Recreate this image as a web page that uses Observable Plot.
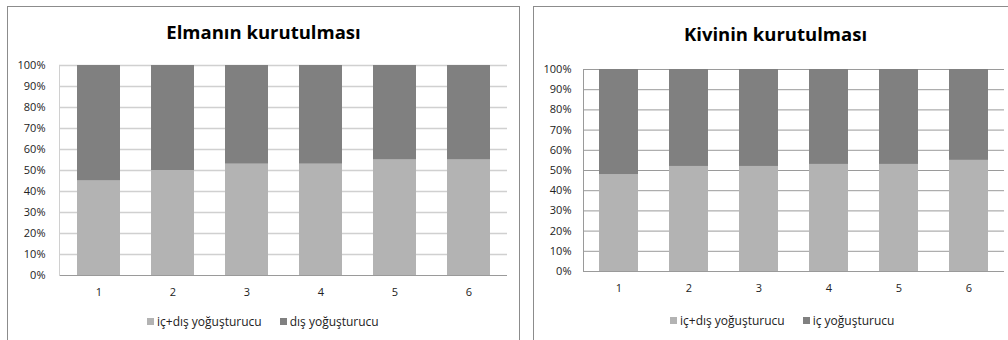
<!DOCTYPE html>
<html>
<head>
<meta charset="utf-8">
<script src="https://cdn.jsdelivr.net/npm/d3@7"></script>
<script src="https://cdn.jsdelivr.net/npm/@observablehq/plot@0.6"></script>
<style>
  html, body { margin: 0; padding: 0; background: #fff; }
  #root { position: relative; width: 1008px; height: 340px; overflow: hidden; font-family: "Open Sans", sans-serif; }
  .frame { position: absolute; border: 1px solid #8c8c8c; box-sizing: border-box; background: #fff; }
  .title { position: absolute; font-weight: bold; font-size: 18.5px; color: #000; text-align: center; white-space: nowrap; }
  .legend { position: absolute; font-size: 12px; color: #222; white-space: nowrap; display: flex; align-items: center; }
  .sw { display: inline-block; width: 7px; height: 7px; margin-right: 3px; }
  .item { display: flex; align-items: center; margin-right: 18px; }
  .chart { position: absolute; }
</style>
</head>
<body>
<div id="root"></div>
<script>
// ---- data ----
const categories = ["1", "2", "3", "4", "5", "6"];
const yTicks = [0, 10, 20, 30, 40, 50, 60, 70, 80, 90, 100];

const elmaTitle = "Elmanın kurutulması";
const elmaSeries = ["iç+dış yoğuşturucu", "dış yoğuşturucu"];
const elmaIcDis = [45, 50, 53, 53, 55, 55];
const elmaDis = [55, 50, 47, 47, 45, 45];

const kiviTitle = "Kivinin kurutulması";
const kiviSeries = ["iç+dış yoğuşturucu", "iç yoğuşturucu"];
const kiviIcDis = [48, 52, 52, 53, 53, 55];
const kiviIc = [52, 48, 48, 47, 47, 45];

const colors = ["#b3b3b3", "#808080"];

// ---- build ----
const root = document.getElementById("root");

function panel(opts) {
  const {left, top, width, height, title, titleTop, series, a, b, m, gridColor, padding, legendLeft, legendTop, yPad, xPad} = opts;
  const fr = document.createElement("div");
  fr.className = "frame";
  Object.assign(fr.style, {left: left + "px", top: top + "px", width: width + "px", height: (height + 20) + "px"});
  root.appendChild(fr);

  const t = document.createElement("div");
  t.className = "title";
  t.textContent = title;
  Object.assign(t.style, {left: left + "px", width: width + "px", top: titleTop + "px"});
  root.appendChild(t);

  const rows = [];
  categories.forEach((c, i) => {
    rows.push({cat: c, series: series[0], value: a[i]});
    rows.push({cat: c, series: series[1], value: b[i]});
  });

  const chart = Plot.plot({
    width: width,
    height: height,
    marginLeft: m.left, marginRight: m.right, marginTop: m.top, marginBottom: m.bottom,
    style: {fontFamily: "'Open Sans', sans-serif", fontSize: "11px", color: "#222", background: "transparent"},
    x: {domain: categories, paddingInner: padding, paddingOuter: padding / 2, label: null},
    y: {domain: [0, 100], label: null},
    color: {domain: series, range: colors},
    marks: [
      Plot.ruleY(yTicks.filter(d => d > 0), {stroke: gridColor, strokeWidth: opts.gridWidth}),
      Plot.barY(rows, Plot.stackY({x: "cat", y: "value", fill: "series", order: series})),
      Plot.ruleY([0], {stroke: "#9a9a9a"}),
      Plot.frame({anchor: "left", stroke: gridColor}),
      Plot.axisY({ticks: yTicks, tickSize: 0, tickPadding: yPad, tickFormat: d => d + "%", fill: "#222"}),
      Plot.axisX({tickSize: 0, tickPadding: xPad, fill: "#222"})
    ]
  });
  chart.classList.add("chart");
  Object.assign(chart.style, {left: left + "px", top: top + "px"});
  root.appendChild(chart);

  const lg = document.createElement("div");
  lg.className = "legend";
  Object.assign(lg.style, {left: legendLeft + "px", top: legendTop + "px"});
  series.forEach((s, i) => {
    const it = document.createElement("span");
    it.className = "item";
    const sw = document.createElement("span");
    sw.className = "sw";
    sw.style.background = colors[i];
    it.appendChild(sw);
    it.appendChild(document.createTextNode(s));
    lg.appendChild(it);
  });
  root.appendChild(lg);
}

panel({
  left: 7, top: 6, width: 513, height: 334, title: elmaTitle, titleTop: 19,
  series: elmaSeries, a: elmaIcDis, b: elmaDis,
  m: {left: 52, right: 13, top: 59, bottom: 65},
  gridColor: "#d0d0d0", gridWidth: 1.5, padding: 0.42, yPad: 14, xPad: 13,
  legendLeft: 147, legendTop: 313
});

panel({
  left: 533, top: 6, width: 485, height: 334, title: kiviTitle, titleTop: 21,
  series: kiviSeries, a: kiviIcDis, b: kiviIc,
  m: {left: 50, right: 14, top: 63, bottom: 69},
  gridColor: "#9a9a9a", gridWidth: 1, padding: 0.44, yPad: 12, xPad: 13,
  legendLeft: 670, legendTop: 312
});
</script>
</body>
</html>
